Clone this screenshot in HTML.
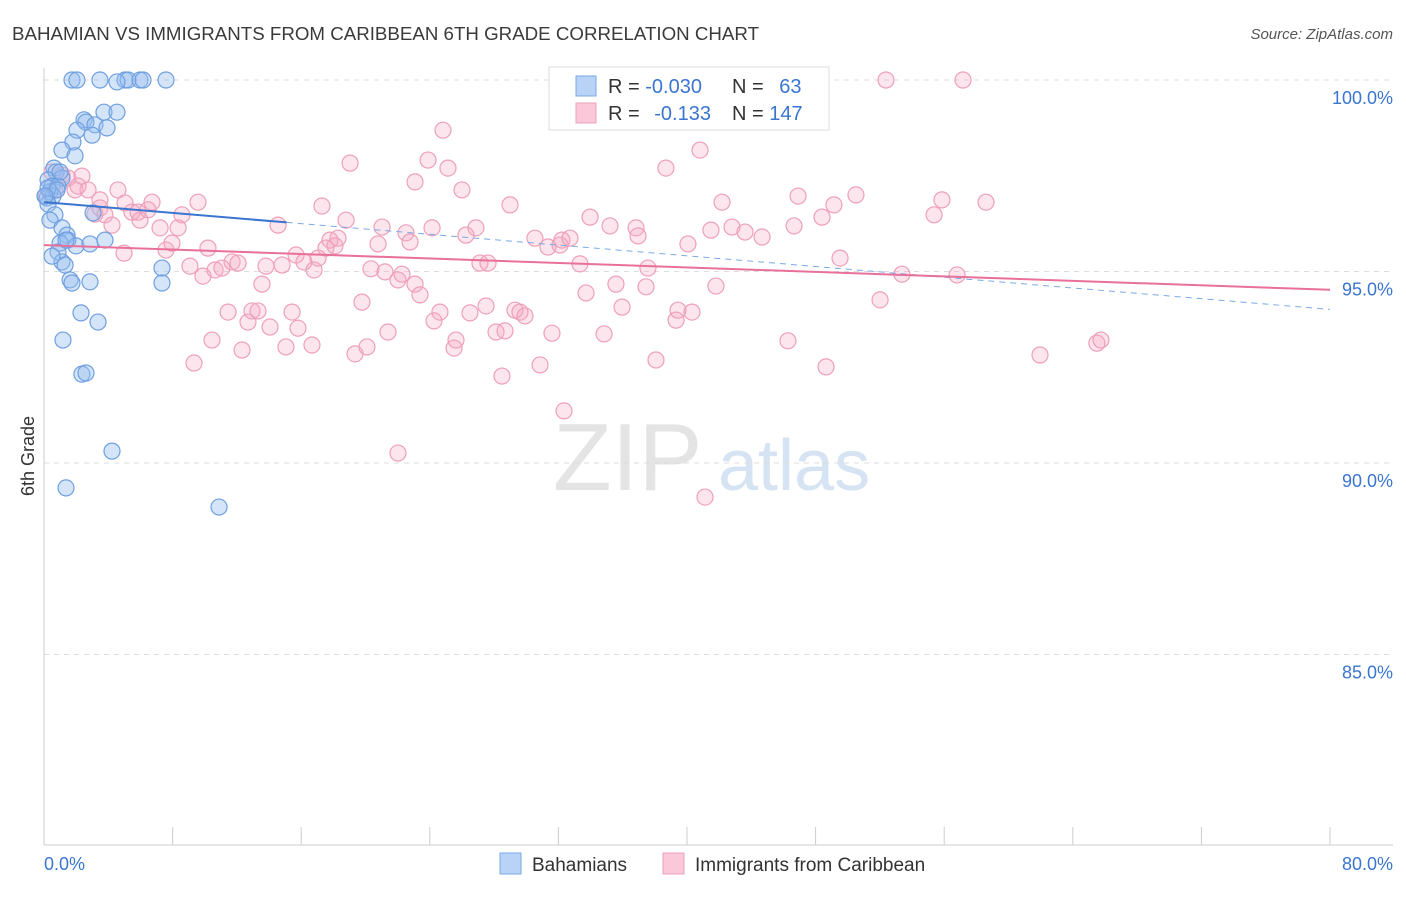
<!DOCTYPE html>
<html><head><meta charset="utf-8"><style>
body{margin:0;background:#fff;font-family:"Liberation Sans",sans-serif;}
svg text{font-family:"Liberation Sans",sans-serif;}
</style></head><body>
<svg id="chart" width="1406" height="892" viewBox="0 0 1406 892" xmlns="http://www.w3.org/2000/svg">
<text x="12" y="40" font-size="18" fill="#3a3a3a" textLength="747" lengthAdjust="spacingAndGlyphs">BAHAMIAN VS IMMIGRANTS FROM CARIBBEAN 6TH GRADE CORRELATION CHART</text>
<text x="1393" y="39" font-size="15" font-style="italic" fill="#555" text-anchor="end">Source: ZipAtlas.com</text>
<text x="553" y="490" font-size="96" font-family="Liberation Serif" fill="#e4e4e4">ZIP</text>
<text x="718" y="490" font-size="72" fill="#d5e3f3">atlas</text>
<g id="grid"></g>
<g id="axes"></g>
<g id="pts"></g>
<g id="lines"></g>
<text transform="translate(34,456) rotate(-90)" font-size="18" fill="#333" text-anchor="middle">6th Grade</text>
<g>
<rect x="549" y="67" width="280" height="63" fill="#fff" stroke="#ddd"/>
<rect x="576" y="76" width="20" height="20" fill="#b8d3f5" stroke="#7aa9e6"/>
<rect x="576" y="103" width="20" height="20" fill="#fac8d8" stroke="#eea0b8"/>
<text x="608" y="93" font-size="20" fill="#333">R = <tspan fill="#3a75d0">-0.030</tspan></text>
<text x="732" y="93" font-size="20" fill="#333">N = <tspan fill="#3a75d0" dx="10">63</tspan></text>
<text x="608" y="120" font-size="20" fill="#333">R = <tspan fill="#3a75d0" dx="9">-0.133</tspan></text>
<text x="732" y="120" font-size="20" fill="#333">N = <tspan fill="#3a75d0">147</tspan></text>
</g>
<g>
<rect x="500" y="853" width="21" height="21" fill="#b8d3f5" stroke="#7aa9e6"/>
<text x="532" y="871" font-size="19" fill="#333">Bahamians</text>
<rect x="663" y="853" width="21" height="21" fill="#fac8d8" stroke="#eea0b8"/>
<text x="695" y="871" font-size="19" fill="#333">Immigrants from Caribbean</text>
</g>
</svg>
<script>
const blueX=[1.74,2.05,3.48,5.04,5.23,5.97,6.16,7.59,4.54,3.73,4.54,2.49,2.61,3.17,3.92,2.05,1.80,2.99,1.12,1.93,0.62,0.75,1.12,0.25,0.5,0.87,0.37,0.19,0.56,0.25,0.68,0.37,1.12,1.43,1.49,1.0,1.99,2.86,3.79,0.87,1.12,1.31,1.62,1.74,2.86,7.34,7.34,2.3,3.36,1.18,2.36,2.61,4.23,1.37,10.89,3.05,0.25,0.81,0.06,1.37,0.5,1.0];
const blueY=[100,100,100,100,100,100,100,100,99.95,99.16,99.16,98.96,98.9,98.83,98.75,98.69,98.38,98.56,98.17,98.02,97.7,97.6,97.44,97.39,97.23,97.23,97.08,96.92,96.97,96.76,96.48,96.34,96.14,95.95,95.82,95.74,95.67,95.72,95.82,95.51,95.25,95.17,94.78,94.7,94.73,95.09,94.7,93.92,93.68,93.21,92.32,92.35,90.31,89.35,88.85,96.53,97.18,97.13,96.97,95.82,95.4,97.6];
const pinkX=[0.12,0.5,0.68,1.12,1.49,1.93,2.12,2.36,2.74,3.17,3.48,3.48,3.79,4.23,4.6,5.04,5.47,4.98,5.85,5.97,6.72,6.47,7.22,7.59,7.96,8.34,8.58,9.08,9.58,9.89,10.2,10.45,10.64,11.07,11.45,11.7,12.07,12.32,9.33,12.69,12.94,13.31,13.56,13.81,14.06,14.56,14.81,15.05,15.43,15.8,15.68,16.17,16.67,16.8,17.05,17.29,17.54,17.79,18.1,18.29,18.79,19.04,19.35,19.78,20.09,20.34,20.78,21.03,21.21,21.4,22.02,22.27,22.52,22.02,22.77,23.08,23.08,23.39,23.89,24.14,24.26,24.63,24.82,25.13,25.51,25.63,26.0,26.25,26.5,26.87,27.12,27.5,27.62,28.12,28.49,28.68,28.99,29.3,29.61,29.92,30.54,30.86,31.35,31.6,32.1,32.22,32.35,32.72,33.34,33.72,33.97,34.84,35.21,35.58,35.96,36.83,36.95,37.57,37.45,38.07,38.69,39.32,39.44,40.06,40.31,40.81,41.12,41.49,41.8,42.18,42.8,43.61,44.67,46.28,46.66,46.91,48.4,48.65,49.14,49.52,50.51,52.01,52.38,53.37,55.37,55.86,56.8,57.17,58.6,61.96,65.5,65.75];
const pinkY=[96.97,97.6,97.13,97.52,97.44,97.13,97.23,97.49,97.13,96.5,96.87,96.66,96.48,96.21,97.13,96.79,96.55,95.48,96.55,96.34,96.81,96.61,96.14,95.56,95.74,96.14,96.48,95.14,96.81,94.88,95.61,93.21,95.04,95.09,93.94,95.25,95.22,92.95,92.61,93.68,93.97,93.97,94.67,95.14,93.55,96.21,95.17,93.03,93.94,93.52,95.43,95.25,93.08,95.04,95.35,96.71,95.61,95.82,95.67,95.87,96.34,97.83,92.85,94.2,93.03,95.07,95.72,96.16,94.99,93.42,94.78,94.93,96.01,90.26,95.77,97.34,94.67,94.39,97.91,96.14,93.71,93.94,98.69,97.7,93.0,93.21,97.13,95.95,93.92,96.14,95.22,94.1,95.22,93.42,92.27,93.45,96.74,93.99,93.94,93.84,95.87,92.56,95.64,93.39,95.69,95.82,91.36,95.87,95.2,94.44,96.42,93.37,96.19,94.67,94.07,96.14,95.93,95.09,94.6,92.69,97.7,93.73,93.99,95.72,93.94,98.17,89.11,96.08,94.62,96.81,96.16,96.03,95.9,93.19,96.19,96.97,96.42,92.51,96.74,95.35,97.0,94.26,100,94.93,96.48,96.87,94.91,100,96.81,92.82,93.13,93.21];
const yTicks=[100,95,90,85];
const yTickLabels=["100.0%","95.0%","90.0%","85.0%"];
const xTickLabels=["0.0%","80.0%"];
const blueTrend=[96.81,-0.035];
const pinkTrend=[95.69,-0.0146];
const NS="http://www.w3.org/2000/svg";
const sx=v=>44+v*16.075, sy=v=>80+(100-v)*38.3;
function mk(tag,attrs,parent){const e=document.createElementNS(NS,tag);for(const k in attrs)e.setAttribute(k,attrs[k]);document.getElementById(parent).appendChild(e);return e;}
yTicks.forEach((t,i)=>{
 const l=mk('line',{x1:44,x2:1393,y1:sy(t),y2:sy(t),stroke:'#ddd','stroke-dasharray':'5,5'},'grid');
 
 
 const tx=mk('text',{x:1393,y:sy(t)+24,'font-size':18,fill:'#3a75d0','text-anchor':'end'},'grid');
 tx.textContent=yTickLabels[i];
 
 
});
let a=mk('line',{x1:44,x2:44,y1:68,y2:845,stroke:'#ccc'},'axes');


a=mk('line',{x1:44,x2:1393,y1:845,y2:845,stroke:'#ccc'},'axes');


for(let i=0;i<=10;i++){const t=mk('line',{x1:sx(i*8),x2:sx(i*8),y1:827,y2:845,stroke:'#ccc'},'axes');
 
 }
[0,80].forEach((v,i)=>{const t=mk('text',{x:i?1393:44,y:870,'font-size':18,fill:'#3a75d0','text-anchor':i?'end':'start'},'axes');t.textContent=xTickLabels[i];
 
 });
pinkX.forEach((x,i)=>{const c=mk('circle',{cx:sx(x),cy:sy(pinkY[i]),r:8,fill:'rgba(245,170,195,0.3)',stroke:'#eea0b8','stroke-width':1.2},'pts');
 
 });
blueX.forEach((x,i)=>{const c=mk('circle',{cx:sx(x),cy:sy(blueY[i]),r:8,fill:'rgba(150,190,240,0.4)',stroke:'#6f9fe0','stroke-width':1.2},'pts');
 
 });
let ln=mk('line',{x1:sx(0),y1:sy(blueTrend[0]),x2:sx(15.1),y2:sy(blueTrend[0]+blueTrend[1]*15.1),stroke:'#3a75d0','stroke-width':2},'lines');


ln=mk('line',{x1:sx(15.1),y1:sy(blueTrend[0]+blueTrend[1]*15.1),x2:sx(80),y2:sy(blueTrend[0]+blueTrend[1]*80),stroke:'#7aa9e6','stroke-width':1,'stroke-dasharray':'6,5'},'lines');


ln=mk('line',{x1:sx(0),y1:sy(pinkTrend[0]),x2:sx(80),y2:sy(pinkTrend[0]+pinkTrend[1]*80),stroke:'#e8709a','stroke-width':2},'lines');


</script>
</body></html>
